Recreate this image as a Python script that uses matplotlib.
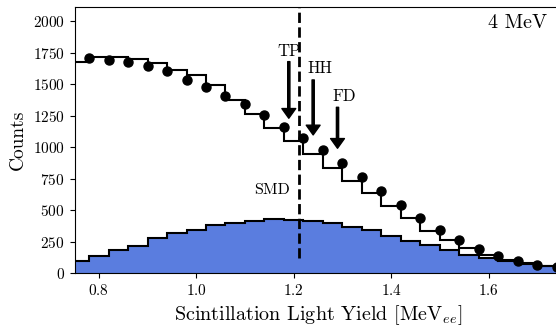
import numpy as np
import matplotlib
matplotlib.use('Agg')
import matplotlib.pyplot as plt

plt.rcParams['font.family'] = 'serif'
plt.rcParams['font.serif'] = ['cmr10']
plt.rcParams['mathtext.fontset'] = 'cm'
plt.rcParams['axes.formatter.use_mathtext'] = True

# bin edges (steps change at the data points)
edges = np.round(0.74 + 0.04 * np.arange(27), 2)

# total simulated spectrum (black step)
total = [1680, 1714, 1714, 1698, 1672, 1613, 1574, 1494, 1375, 1265, 1156, 1052, 947,
         833, 733, 640, 534, 436, 335, 262, 200, 148, 106, 79, 58, 45]

# filled component (blue)
component = [98, 137, 188, 219, 280, 320, 346, 383, 397, 418, 433, 425, 416,
             402, 365, 344, 299, 259, 225, 185, 148, 123, 99, 75, 56, 45]

# measured points
data_x = edges[1:-1]
data_y = [1706, 1693, 1675, 1648, 1608, 1534, 1476, 1410, 1341, 1256, 1161, 1074, 979,
          873, 767, 653, 542, 437, 344, 264, 191, 137, 95, 68, 52]

smd_x = 1.21
arrows = {'TP': 1.19, 'HH': 1.24, 'FD': 1.29}

fig = plt.figure(figsize=(5.56, 3.27), dpi=100)
ax = fig.add_axes([0.134, 0.164, 0.876, 0.8145])

ax.stairs(component, edges, fill=True, color='#5a7ddf', zorder=1)
ax.stairs(component, edges, color='black', lw=1.5, zorder=2)
ax.stairs(total, edges, color='black', lw=1.5, zorder=3)
ax.plot([smd_x, smd_x], [120, 2110], 'k--', lw=2, zorder=4)
ax.plot(data_x, data_y, 'o', color='black', ms=6.5, zorder=5)

ap = dict(facecolor='black', edgecolor='black', width=1.6, headwidth=10, headlength=7, shrink=0)
ax.annotate('', xy=(arrows['TP'], 1230), xytext=(arrows['TP'], 1679), arrowprops=ap)
ax.annotate('', xy=(arrows['HH'], 1098), xytext=(arrows['HH'], 1534), arrowprops=ap)
ax.annotate('', xy=(arrows['FD'], 992), xytext=(arrows['FD'], 1317), arrowprops=ap)
ax.text(1.19, 1762, 'TP', ha='center', va='center', fontsize=12)
ax.text(1.2535, 1627, 'HH', ha='center', va='center', fontsize=12)
ax.text(1.303, 1402, 'FD', ha='center', va='center', fontsize=12)
ax.text(1.1925, 661, 'SMD', ha='right', va='center', fontsize=11.5)
ax.text(1.721, 1984, '4 MeV', ha='right', va='center', fontsize=14.5)

ax.set_xlim(0.75, 1.75)
ax.set_ylim(0, 2112)
ax.set_xticks([0.8, 1.0, 1.2, 1.4, 1.6])
ax.set_yticks(np.arange(0, 2001, 250))
ax.tick_params(labelsize=11)
ax.set_xlabel(r'Scintillation Light Yield [MeV$_{ee}$]', fontsize=14.5)
ax.set_ylabel('Counts', fontsize=14)

fig.savefig('out.png', dpi=100)
